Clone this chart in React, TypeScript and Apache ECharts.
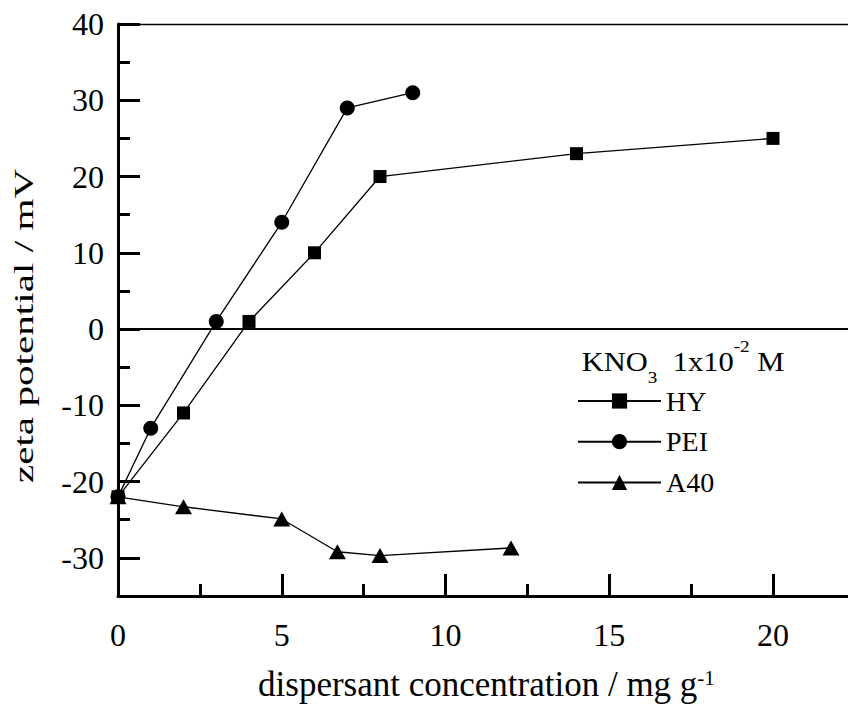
import React, { useEffect, useRef } from 'react';
import * as echarts from 'echarts';

// ---- data ----
const seriesNames = ['HY', 'PEI', 'A40'];
const hyX = [0, 2, 4, 6, 8, 14, 20];
const hyY = [-22, -11, 1, 10, 20, 23, 25];
const peiX = [0, 1, 3, 5, 7, 9];
const peiY = [-22, -13, 1, 14, 29, 31];
const a40X = [0, 2, 5, 6.7, 8, 12];
const a40Y = [-22, -23.3, -24.9, -29.2, -29.7, -28.7];
const xTickLabels = [0, 5, 10, 15, 20];
const yTickLabels = [-30, -20, -10, 0, 10, 20, 30, 40];
const xTitle = 'dispersant concentration / mg g';
const xTitleSup = '-1';
const yTitle = 'zeta potential / mV';
const legendTitleParts = ['KNO', '3', '  1x10', '-2', ' M'];

const FONT = 'Liberation Serif';

const zip = (xs: number[], ys: number[]) => xs.map((x, i) => [x, ys[i]]);

export default function App() {
  const ref = useRef<HTMLDivElement>(null);
  useEffect(() => {
    if (!ref.current) return;
    const chart = echarts.init(ref.current, undefined, { renderer: 'svg' });
    const L = 118;
    const T = 24;
    const B = 596;
    const pxY = (B - T) / 75;
    const pxX = 32.75;
    const black = '#000000';

    const lbl = (size: number, extra: any = {}) => ({
      fontSize: size,
      fontFamily: FONT,
      color: black,
      ...extra,
    });

    const mkSeries = (name: string, xs: number[], ys: number[], symbol: string, size: any, z: number, extra: any = {}) => ({
      name,
      type: 'line',
      xAxisIndex: 0,
      yAxisIndex: 0,
      data: zip(xs, ys),
      symbol,
      symbolSize: size,
      showAllSymbol: true,
      z,
      itemStyle: { color: black, borderWidth: 0 },
      lineStyle: { color: black, width: 1.3 },
      emphasis: { disabled: true },
      ...extra,
    });

    const option: any = {
      animation: false,
      backgroundColor: '#fff',
      textStyle: { fontFamily: FONT, color: black },
      grid: [
        { left: L, top: T, width: 22.5 * pxX, height: B - T },
        { left: L, top: T, width: 20 * pxX, height: B - T },
        { left: L, top: T, width: 22.5 * pxX, height: 70 * pxY },
      ],
      xAxis: [
        {
          gridIndex: 0,
          type: 'value',
          min: 0,
          max: 22.5,
          interval: 2.5,
          axisLine: { onZero: false, lineStyle: { color: black, width: 3 } },
          axisTick: { inside: true, length: 12, lineStyle: { color: black, width: 3 } },
          axisLabel: lbl(32, {
            formatter: (v: number) => (xTickLabels.includes(v) ? String(v) : ''),
            margin: 23,
          }),
          splitLine: { show: false },
          name: `{a|${xTitle}}{s|${xTitleSup}}`,
          nameLocation: 'middle',
          nameGap: 71,
          nameTextStyle: lbl(35, {
            rich: {
              a: lbl(35, { lineHeight: 35 }),
              s: lbl(21, { lineHeight: 21, verticalAlign: 'top' }),
            },
          }),
        },
        {
          gridIndex: 1,
          type: 'value',
          min: 0,
          max: 20,
          interval: 5,
          axisLine: { show: false, onZero: false },
          axisTick: { inside: true, length: 22, lineStyle: { color: black, width: 3 } },
          axisLabel: { show: false },
          splitLine: { show: false },
        },
        {
          gridIndex: 0,
          type: 'value',
          position: 'top',
          min: 0,
          max: 22.5,
          axisLine: { onZero: false, lineStyle: { color: black, width: 1.3 } },
          axisTick: { show: false },
          axisLabel: { show: false },
          splitLine: { show: false },
        },
        {
          gridIndex: 2,
          type: 'value',
          show: false,
          min: 0,
          max: 22.5,
          axisLine: { onZero: false },
        },
      ],
      yAxis: [
        {
          gridIndex: 0,
          type: 'value',
          min: -35,
          max: 40,
          interval: 5,
          axisLine: { onZero: false, lineStyle: { color: black, width: 3 } },
          axisTick: { inside: true, length: 12, lineStyle: { color: black, width: 3 } },
          axisLabel: lbl(32, {
            formatter: (v: number) => (yTickLabels.includes(v) ? String(v) : ''),
            margin: 14,
          }),
          splitLine: { show: false },
        },
        {
          gridIndex: 1,
          type: 'value',
          show: false,
          min: -35,
          max: 40,
          axisLine: { onZero: false },
        },
        {
          gridIndex: 2,
          type: 'value',
          min: -30,
          max: 40,
          interval: 10,
          axisLine: { show: false, onZero: false },
          axisTick: { inside: true, length: 22, lineStyle: { color: black, width: 3 } },
          axisLabel: { show: false },
          splitLine: { show: false },
        },
      ],
      legend: {
        data: seriesNames,
        orient: 'vertical',
        left: 577,
        top: 387,
        itemWidth: 83,
        itemHeight: 19,
        itemGap: 12.7,
        padding: 0,
        selectedMode: false,
        textStyle: lbl(28),
      },
      graphic: [
        {
          type: 'text',
          x: 24,
          y: 326,
          rotation: Math.PI / 2,
          scaleX: 1.47,
          style: {
            text: yTitle,
            fontSize: 28,
            fontFamily: FONT,
            fill: black,
            align: 'center',
            verticalAlign: 'middle',
          },
        },
        {
          type: 'text',
          x: 581.7,
          y: 361.6,
          scaleX: 1.13,
          style: {
            text: `{n|${legendTitleParts[0]}}{b|${legendTitleParts[1]}}{n|${legendTitleParts[2]}}{p|${legendTitleParts[3]}}{n|${legendTitleParts[4]}}`,
            align: 'left',
            verticalAlign: 'middle',
            fill: black,
            rich: {
              n: { fontSize: 27, fontFamily: FONT, fill: black, lineHeight: 48 },
              b: { fontSize: 17, fontFamily: FONT, fill: black, lineHeight: 17, verticalAlign: 'bottom' },
              p: { fontSize: 17, fontFamily: FONT, fill: black, lineHeight: 33, verticalAlign: 'top' },
            },
          },
        },
      ],
      series: [
        mkSeries(seriesNames[0], hyX, hyY, 'rect', 13, 5, {
          markLine: {
            silent: true,
            symbol: ['none', 'none'],
            label: { show: false },
            lineStyle: { color: black, width: 2, type: 'solid' },
            emphasis: { disabled: true },
            data: [{ yAxis: 0 }],
          },
        }),
        mkSeries(seriesNames[1], peiX, peiY, 'circle', 15, 4),
        mkSeries(seriesNames[2], a40X, a40Y, 'triangle', [17, 15], 3),
      ],
    };
    chart.setOption(option);
    return () => chart.dispose();
  }, []);
  return (
    <div
      ref={ref}
      style={{ position: 'fixed', left: 0, top: 0, width: 870, height: 709, background: '#fff' }}
    />
  );
}
